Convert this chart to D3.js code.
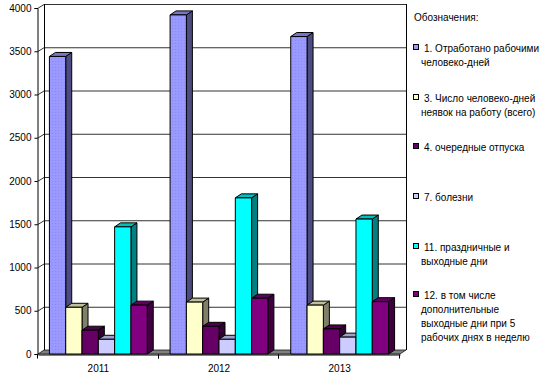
<!DOCTYPE html>
<html>
<head>
<meta charset="utf-8">
<script src="https://cdnjs.cloudflare.com/ajax/libs/d3/7.8.5/d3.min.js"></script>
<style>
  body { margin: 0; background: #fff; }
  svg text { font-family: "Liberation Sans", Arial, sans-serif; font-size: 10px; fill: #000; }
</style>
</head>
<body>
<div id="chart"></div>
<script>
// ---- data ----
var years = ["2011", "2012", "2013"];
var seriesKeys = ["s1", "s3", "s4", "s7", "s11", "s12"];
var worked      = [3440, 3920, 3670];   // 1. Отработано рабочими человеко-дней
var absent      = [540, 600, 565];      // 3. Число человеко-дней неявок
var vacation    = [275, 320, 290];      // 4. очередные отпуска
var sick        = [170, 170, 195];      // 7. болезни
var holidays    = [1470, 1805, 1560];   // 11. праздничные и выходные дни
var extraDays   = [565, 645, 605];      // 12. в том числе дополнительные ...
var yTicks = [0, 500, 1000, 1500, 2000, 2500, 3000, 3500, 4000];
var legendTitle = "Обозначения:";
var legendLabels = [
  ["1. Отработано рабочими", "человеко-дней"],
  ["3. Число человеко-дней", "неявок на работу (всего)"],
  ["4. очередные отпуска"],
  ["7. болезни"],
  ["11. праздничные и", "выходные дни"],
  ["12. в том числе", "дополнительные", "выходные дни при 5", "рабочих днях в неделю"]
];

var values = [worked, absent, vacation, sick, holidays, extraDays];
// front / top / side shades
var colors = [
  ["url(#dots)", "#7676c8", "#4c4c80"],
  ["#ffffcc", "#bfbf99", "#80806a"],
  ["#660066", "#4d004d", "#330033"],
  ["#ccccff", "#9f9fcc", "#66667f"],
  ["#00ffff", "#00bfbf", "#008080"],
  ["#800080", "#600060", "#400040"]
];
var legendFill = ["#9999ff", "#ffffcc", "#660066", "#ccccff", "#00ffff", "#800080"];

function init() {
  var w = 549, h = 379;
  var dx = 6, dy = 4;   // 3D depth offset
  var left = 38, right = 400, bottom = 354, top = 8;

  var svg = d3.select("#chart").append("svg")
      .attr("width", w).attr("height", h);

  var defs = svg.append("defs");
  var pat = defs.append("pattern").attr("id", "dots")
      .attr("width", 3).attr("height", 3).attr("patternUnits", "userSpaceOnUse");
  pat.append("rect").attr("width", 3).attr("height", 3).attr("fill", "#9999ff");
  pat.append("rect").attr("x", 1).attr("y", 1).attr("width", 1).attr("height", 1).attr("fill", "#8a8af0");

  var y = d3.scaleLinear().domain([0, 4000]).range([bottom, top]);
  var x0 = d3.scaleBand().domain(years).range([left, right]).padding(0);
  var x1 = d3.scaleBand().domain(seriesKeys).range([0, x0.bandwidth()])
      .paddingInner(0).paddingOuter(0.7);

  // back wall gridlines + left wall slants
  var grid = svg.append("g");
  yTicks.forEach(function (t) {
    if (t === 0) return;
    grid.append("line")
      .attr("x1", left + dx).attr("x2", right + dx + 0.5)
      .attr("y1", y(t) - dy + 0.5).attr("y2", y(t) - dy + 0.5)
      .attr("stroke", "#333").attr("stroke-width", 1);
    grid.append("line")
      .attr("x1", left - 0.5).attr("y1", y(t) + 0.5)
      .attr("x2", left + dx).attr("y2", y(t) - dy + 0.5)
      .attr("stroke", "#333").attr("stroke-width", 1);
  });
  // walls' edges
  grid.append("line").attr("x1", left + dx + 0.5).attr("x2", left + dx + 0.5)
    .attr("y1", y(4000) - dy).attr("y2", bottom - dy).attr("stroke", "#000");
  grid.append("line").attr("x1", right + dx + 0.5).attr("x2", right + dx + 0.5)
    .attr("y1", y(4000) - dy).attr("y2", bottom - dy).attr("stroke", "#000");

  // floor
  svg.append("path")
    .attr("d", "M" + left + "," + bottom + "L" + (left + dx) + "," + (bottom - dy) +
               "L" + (right + dx) + "," + (bottom - dy) + "L" + right + "," + bottom + "Z")
    .attr("fill", "#808080").attr("stroke", "#000").attr("stroke-width", 0.7);

  // bars
  var bars = svg.append("g");
  years.forEach(function (yr, i) {
    seriesKeys.forEach(function (k, j) {
      var v = values[j][i];
      var bx = x0(yr) + x1(k), bw = x1.bandwidth();
      var ty = y(v), by = y(0);
      var g = bars.append("g").attr("stroke", "#000").attr("stroke-width", 1)
          .attr("stroke-linejoin", "round");
      // side
      g.append("path").attr("fill", colors[j][2])
        .attr("d", "M" + (bx + bw) + "," + by + "L" + (bx + bw + dx) + "," + (by - dy) +
                   "L" + (bx + bw + dx) + "," + (ty - dy) + "L" + (bx + bw) + "," + ty + "Z");
      // top
      g.append("path").attr("fill", colors[j][1])
        .attr("d", "M" + bx + "," + ty + "L" + (bx + dx) + "," + (ty - dy) +
                   "L" + (bx + bw + dx) + "," + (ty - dy) + "L" + (bx + bw) + "," + ty + "Z");
      // front
      g.append("rect").attr("fill", colors[j][0])
        .attr("x", bx).attr("y", ty).attr("width", bw).attr("height", by - ty);
    });
  });

  // y axis
  var yAxis = d3.axisLeft(y).tickValues(yTicks).tickSize(3).tickPadding(3)
      .tickFormat(d3.format("d"));
  var ya = svg.append("g").attr("transform", "translate(" + (left - 0.5) + ",0)").call(yAxis);
  ya.select(".domain").attr("stroke", "#000");
  ya.selectAll("text").style("font-family", "Liberation Sans, Arial, sans-serif")
    .style("font-size", "10px");

  // x axis
  var xAxis = d3.axisBottom(x0).tickSize(0).tickPadding(10);
  var xa = svg.append("g").attr("transform", "translate(0," + (bottom + 0.5) + ")").call(xAxis);
  xa.select(".domain").attr("stroke", "#000");
  xa.selectAll("text").style("font-family", "Liberation Sans, Arial, sans-serif")
    .style("font-size", "10px");
  years.forEach(function (yr, i) {
    [x0(yr), x0(yr) + x0.bandwidth()].forEach(function (px) {
      xa.append("line").attr("x1", Math.round(px) - 0.5).attr("x2", Math.round(px) - 0.5)
        .attr("y1", 0).attr("y2", 4).attr("stroke", "#000");
    });
  });

  // legend
  var lg = svg.append("g");
  lg.append("text").attr("x", 414).attr("y", 21).text(legendTitle);
  var itemY = [52, 102, 151, 201, 251, 299];
  legendLabels.forEach(function (lines, i) {
    lg.append("rect").attr("x", 413.5).attr("y", itemY[i] - 7.5)
      .attr("width", 5).attr("height", 5)
      .attr("fill", legendFill[i]).attr("stroke", "#000").attr("stroke-width", 1);
    var t = lg.append("text").attr("x", 424).attr("y", itemY[i]);
    lines.forEach(function (ln, k) {
      t.append("tspan").attr("x", k === 0 ? 424 : 421).attr("dy", k === 0 ? 0 : 14).text(ln);
    });
  });
}

window.onload = init;
</script>
</body>
</html>
